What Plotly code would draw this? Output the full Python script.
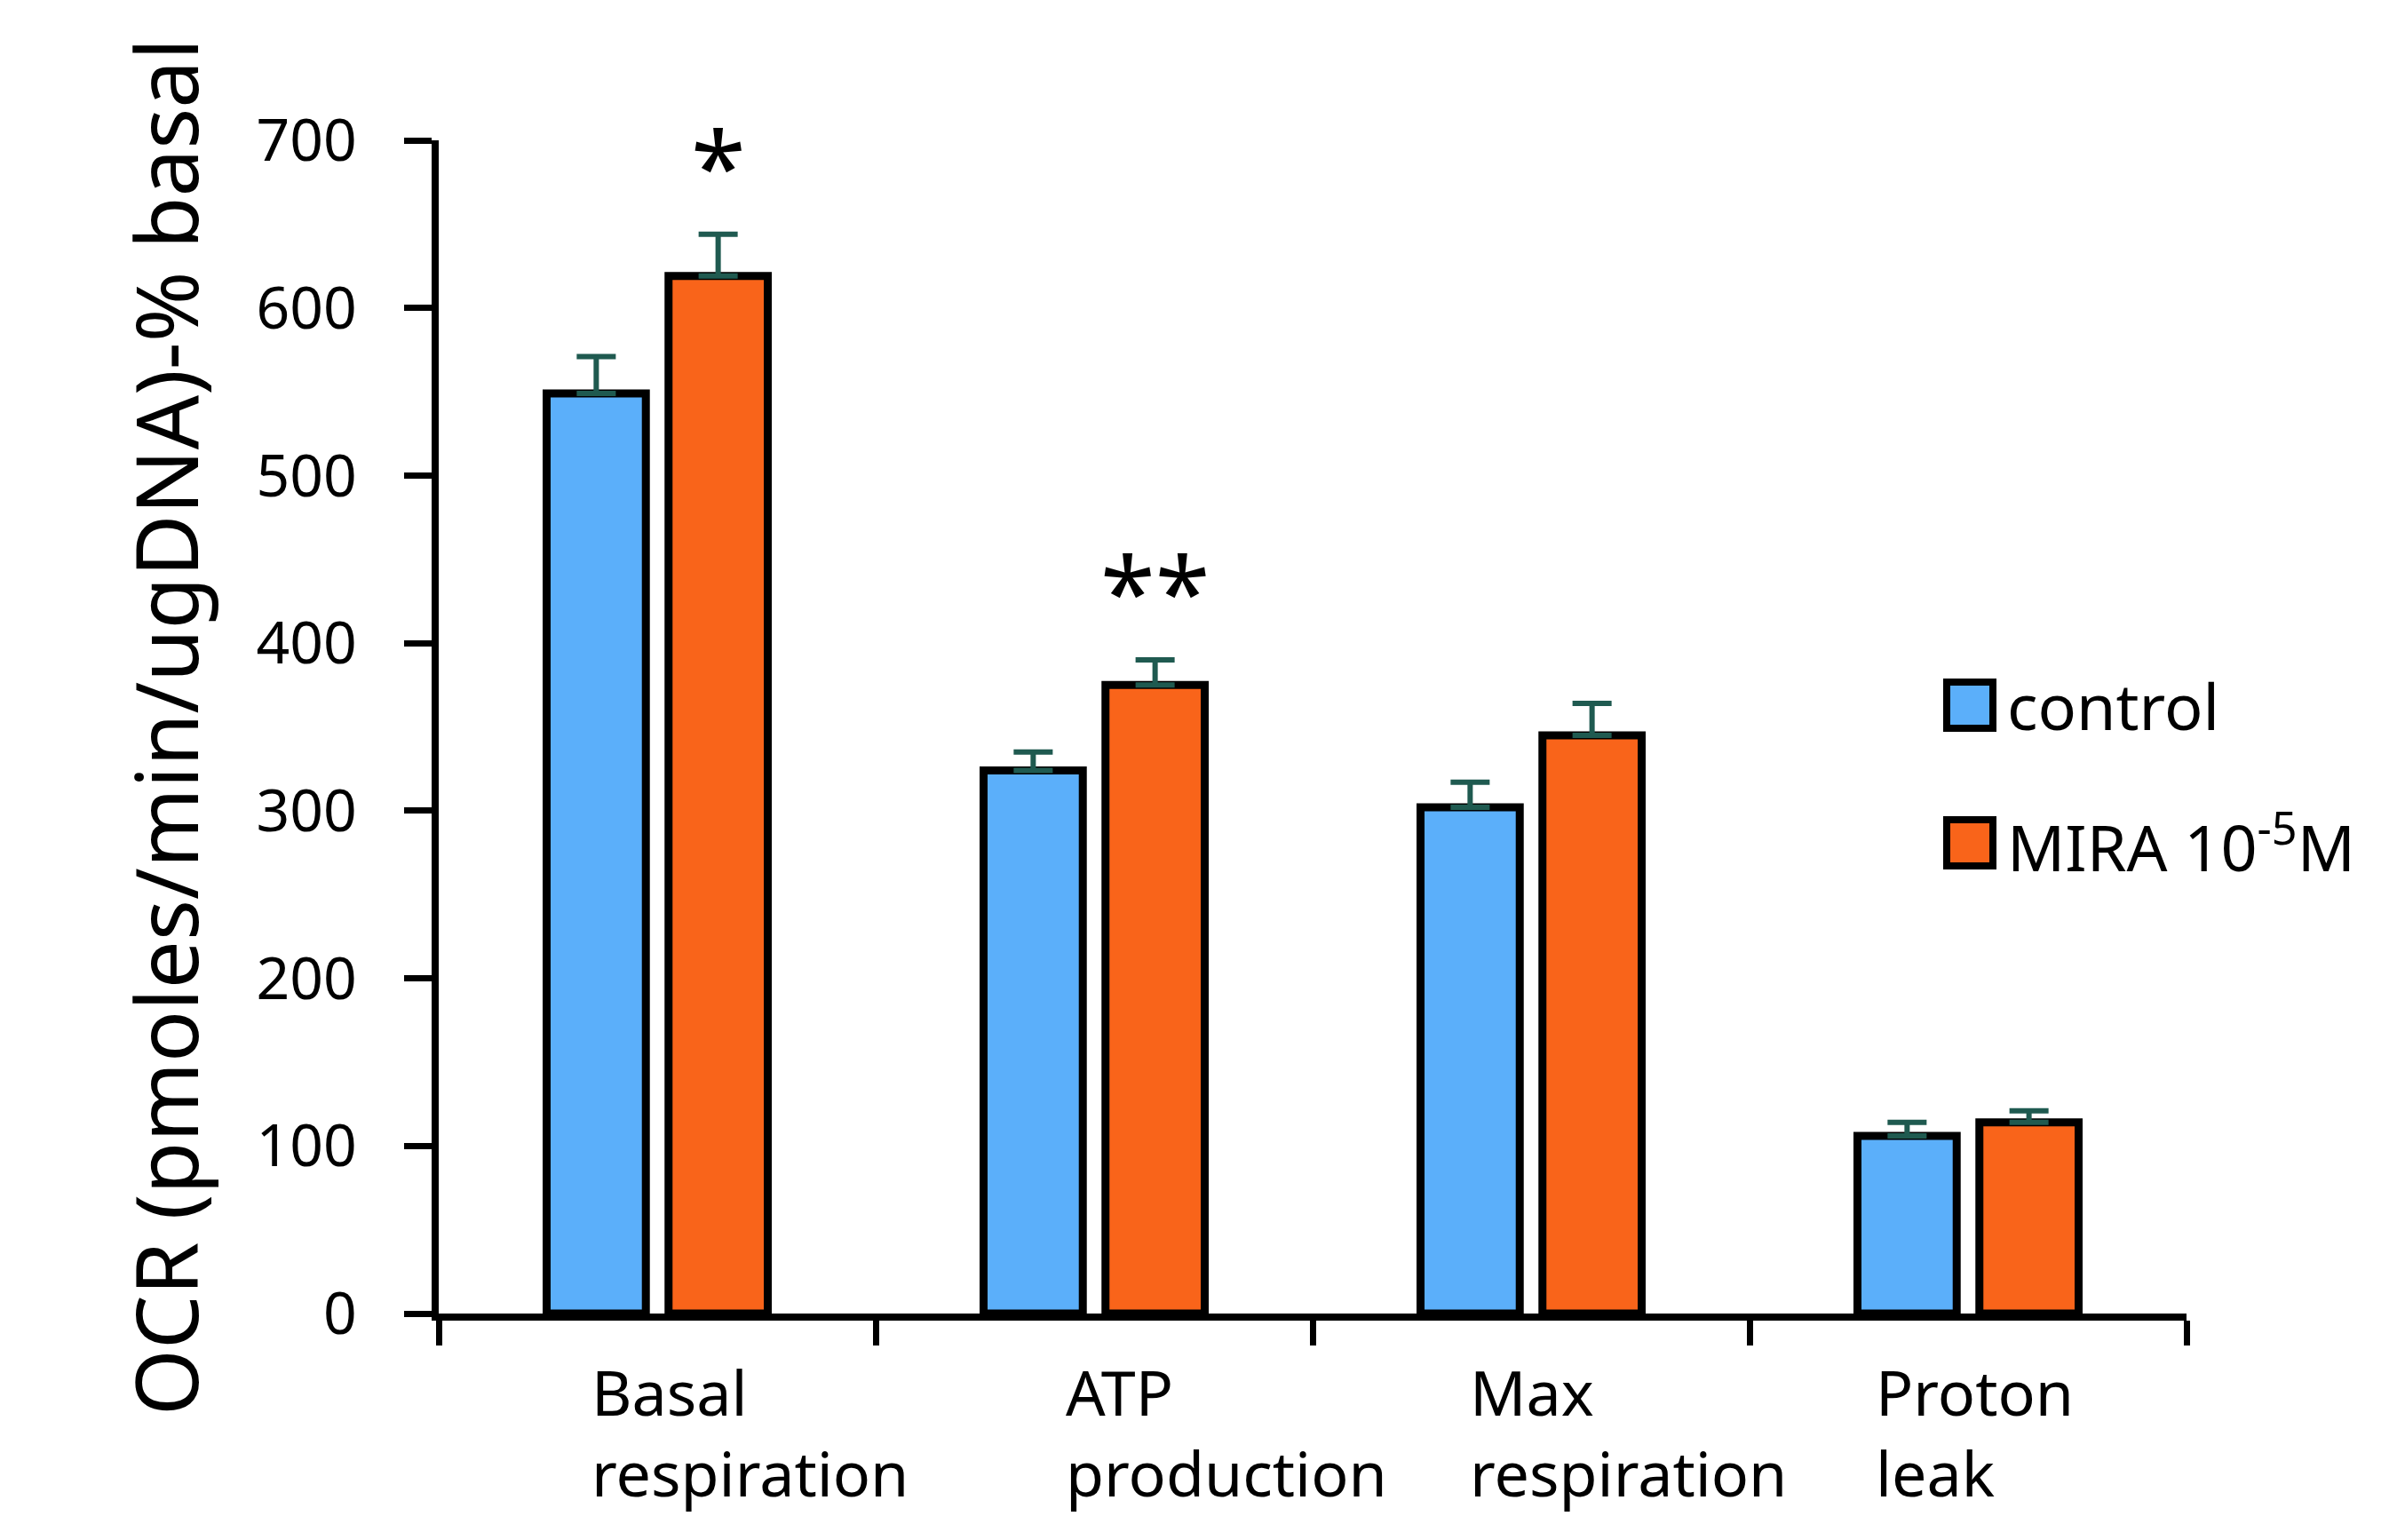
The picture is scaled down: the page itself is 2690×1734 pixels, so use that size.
import plotly.graph_objects as go

# Seahorse mitochondrial stress test summary (mean + SEM)
categories = ["Basal respiration", "ATP production", "Max respiration", "Proton leak"]
label_lines = [["Basal", "respiration"], ["ATP", "production"],
               ["Max", "respiration"], ["Proton", "leak"]]
control = [549, 324, 302, 106]
control_sem = [22, 11, 15, 8]
mira = [619, 375, 345, 114]
mira_sem = [25, 15, 19, 7]
significance = ["*", "**", "", ""]
series_names = ["control", "MIRA 10<sup>-5</sup>M"]
y_ticks = [0, 100, 200, 300, 400, 500, 600, 700]

# left edge of each two-line category label, relative to the group centre
label_offsets = [-0.155, -0.07, -0.145, -0.215]

BLUE = "#5BAFFA"
ORANGE = "#F9641A"
ERR = "#1F5A50"
FONT = "Noto Sans"

W, H = 2690, 1734
M = dict(l=494, r=228, t=158, b=255)
plot_w = W - M["l"] - M["r"]
plot_h = H - M["t"] - M["b"]

BARGAP = 0.442
GROUPGAP = 0.186
slot = (1 - BARGAP) / 2  # width of one series slot in category units

fig = go.Figure()
for name, vals, sem, color in [(series_names[0], control, control_sem, BLUE),
                               (series_names[1], mira, mira_sem, ORANGE)]:
    fig.add_trace(go.Bar(
        x=categories, y=vals, name=name,
        marker=dict(color=color, line=dict(color="black", width=9)),
        error_y=dict(type="data", symmetric=False, array=sem,
                     arrayminus=[0] * len(sem), color=ERR, thickness=6, width=22),
        showlegend=False,
    ))

# significance markers above the treated bars
for i, mark in enumerate(significance):
    if not mark:
        continue
    fig.add_annotation(
        x=i + slot / 2, y=mira[i] + mira_sem[i], xref="x", yref="y",
        text=mark, showarrow=False, yanchor="bottom", yshift=0,
        font=dict(family=FONT, size=112, color="black"),
    )

# category labels, left aligned under each group
for i, lines in enumerate(label_lines):
    fig.add_annotation(
        x=i + label_offsets[i], y=0, xref="x", yref="paper",
        text="<br>".join(lines), showarrow=False,
        xanchor="left", yanchor="top", align="left", yshift=-38,
        font=dict(family=FONT, size=70, color="black"),
    )

# legend swatches and labels
box_w = 52 / plot_w
box_h = 52 / plot_h
sw_x0 = (2192 - M["l"]) / plot_w
txt_x = (2258 - M["l"]) / plot_w
for name, color, yc in [(series_names[0], BLUE, 0.5186), (series_names[1], ORANGE, 0.4012)]:
    fig.add_shape(type="rect", xref="paper", yref="paper",
                  x0=sw_x0, x1=sw_x0 + box_w, y0=yc - box_h / 2, y1=yc + box_h / 2,
                  fillcolor=color, line=dict(color="black", width=8))
    fig.add_annotation(x=txt_x, y=yc, xref="paper", yref="paper", text=name,
                       showarrow=False, xanchor="left", yanchor="middle",
                       font=dict(family=FONT, size=72, color="black"))

fig.update_layout(
    width=W, height=H, margin=M,
    paper_bgcolor="white", plot_bgcolor="white",
    barmode="group", bargap=BARGAP, bargroupgap=GROUPGAP,
    font=dict(family=FONT, color="black"),
    xaxis=dict(
        type="category", showticklabels=False, tickson="boundaries",
        ticks="outside", ticklen=28, tickwidth=7, tickcolor="black",
        showline=True, linecolor="black", linewidth=8, showgrid=False,
        range=[-0.5, 3.5],
    ),
    yaxis=dict(
        range=[0, 700], tickvals=y_ticks, ticks="outside", ticklen=31,
        tickwidth=7, tickcolor="black", showline=True, linecolor="black",
        linewidth=8, showgrid=False, zeroline=False,
        tickfont=dict(family=FONT, size=66, color="black"), ticklabelstandoff=40,
        title=dict(text="OCR (pmoles/min/ugDNA)-% basal", standoff=36,
                   font=dict(family=FONT, size=96, color="black")),
    ),
)

fig.write_html("out.html")
